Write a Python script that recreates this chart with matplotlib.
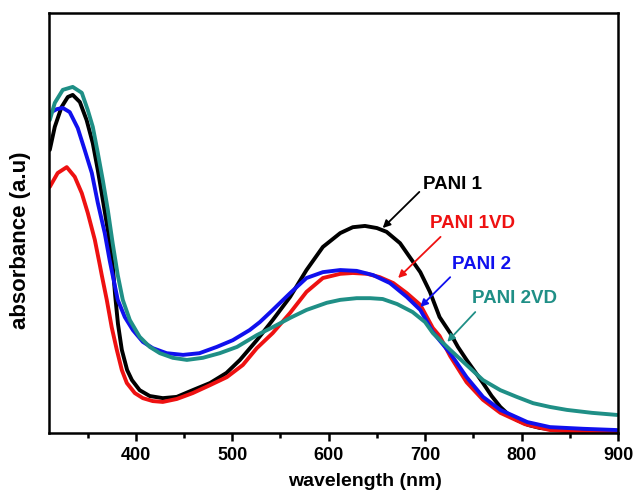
import numpy as np
import matplotlib.pyplot as plt
from matplotlib.ticker import MultipleLocator

plt.rcParams['font.family'] = ['Liberation Sans', 'DejaVu Sans']
plt.rcParams['font.weight'] = 'bold'

# --- Data (absorbance in arbitrary units) ---
pani1_nm = [310.8, 316, 323, 329.5, 334.6, 342, 349, 355.4, 360.6, 365.8, 371, 376, 378.5, 381.5,
            385.5, 391, 396, 404, 414.5, 428, 442.5, 459, 477, 494, 508, 525.5, 542, 560, 577,
            594, 612, 625, 637.6, 650, 660, 674, 684, 695, 705, 715, 726, 734, 743, 752, 760,
            769, 778, 786, 795, 807, 819, 847, 899]
pani1_abs = [0.674, 0.729, 0.776, 0.800, 0.805, 0.788, 0.745, 0.690, 0.626, 0.555, 0.483, 0.400,
             0.330, 0.260, 0.198, 0.150, 0.126, 0.102, 0.088, 0.083, 0.086, 0.102, 0.119, 0.143,
             0.174, 0.221, 0.269, 0.324, 0.388, 0.443, 0.476, 0.490, 0.493, 0.488, 0.479, 0.452,
             0.419, 0.383, 0.336, 0.276, 0.238, 0.205, 0.174, 0.145, 0.119, 0.088, 0.062, 0.045,
             0.031, 0.019, 0.012, 0.005, 0.002]

pani1vd_nm = [310.8, 319, 328.4, 336.7, 344, 350.2, 357.5, 362.7, 364.7, 369.9, 375, 380.3,
              385.5, 390.7, 399, 407.3, 417.6, 428, 442.5, 459, 477, 494.4, 511, 525.5, 542, 560,
              577, 594, 612, 625, 640, 653, 667, 681, 695, 708, 715, 726, 743, 760, 778, 803.5,
              829.5, 864, 899]
pani1vd_abs = [0.586, 0.619, 0.633, 0.610, 0.571, 0.524, 0.460, 0.400, 0.376, 0.317, 0.252,
               0.198, 0.150, 0.119, 0.095, 0.083, 0.076, 0.074, 0.081, 0.095, 0.114, 0.133,
               0.162, 0.202, 0.238, 0.286, 0.336, 0.369, 0.379, 0.381, 0.379, 0.371, 0.357,
               0.333, 0.305, 0.250, 0.231, 0.183, 0.121, 0.079, 0.048, 0.021, 0.007, 0.002, 0.0]

pani2_nm = [310.8, 318, 324.3, 331.5, 339.8, 347, 354.4, 360.6, 367.8, 373, 376, 381.3, 388.6,
            397, 407.3, 417.6, 432, 449, 466, 484, 500.6, 518, 528.6, 542, 560, 577, 594, 612,
            629, 646, 663.5, 681, 695, 708, 726, 743, 760, 778, 806, 829.5, 864, 899]
pani2_abs = [0.762, 0.771, 0.774, 0.764, 0.726, 0.674, 0.619, 0.548, 0.476, 0.410, 0.376,
             0.317, 0.276, 0.245, 0.217, 0.202, 0.190, 0.186, 0.190, 0.205, 0.221, 0.245, 0.264,
             0.293, 0.333, 0.369, 0.383, 0.388, 0.386, 0.376, 0.357, 0.324, 0.293, 0.240, 0.190,
             0.133, 0.086, 0.055, 0.026, 0.014, 0.010, 0.007]

pani2vd_nm = [310.8, 316, 324.3, 334.6, 344, 350.2, 355.4, 360.6, 365.8, 371, 376,
              381.3, 386.5, 393.8, 404, 414.5, 425, 438.4, 453, 469.5, 487, 505, 525.5, 542,
              560, 577, 598, 612, 629, 643, 656, 671, 687, 700, 708, 726, 743, 760, 778, 795,
              812, 829.5, 847, 873, 899]
pani2vd_abs = [0.745, 0.786, 0.817, 0.824, 0.810, 0.769, 0.729, 0.667, 0.602, 0.531, 0.452,
               0.376, 0.317, 0.269, 0.229, 0.205, 0.190, 0.179, 0.174, 0.179, 0.190,
               0.205, 0.233, 0.252, 0.274, 0.293, 0.310, 0.317, 0.321, 0.321, 0.319, 0.307,
               0.288, 0.264, 0.238, 0.198, 0.162, 0.126, 0.102, 0.086, 0.071, 0.062, 0.055,
               0.048, 0.043]

series = [
    ('PANI 1', pani1_nm, pani1_abs, 'black'),
    ('PANI 1VD', pani1vd_nm, pani1vd_abs, '#ee1111'),
    ('PANI 2', pani2_nm, pani2_abs, '#1010ee'),
    ('PANI 2VD', pani2vd_nm, pani2vd_abs, '#1f8f86'),
]

# label baseline-left position, arrow tail -> arrow head
label_pos = {
    'PANI 1': ((697.5, 0.581), (694, 0.574), (656, 0.488)),
    'PANI 1VD': ((705, 0.488), (716, 0.467), (672, 0.369)),
    'PANI 2': ((728, 0.390), (726, 0.371), (695, 0.300)),
    'PANI 2VD': ((748.5, 0.310), (752, 0.288), (723, 0.217)),
}

fig = plt.figure(figsize=(6.36, 4.92), dpi=100)
ax = fig.add_axes([49 / 636, 1 - 433 / 492, (618 - 49) / 636, (433 - 13) / 492])

for name, x, y, c in series:
    ax.plot(x, y, color=c, linewidth=2.8, solid_capstyle='round', solid_joinstyle='round')

for name, x, y, c in series:
    (tx, ty), tail, head = label_pos[name]
    ax.text(tx, ty, name, color=c, fontsize=13.5, fontweight='bold', ha='left', va='baseline')
    ax.annotate('', xy=head, xytext=tail,
                arrowprops=dict(arrowstyle='-|>', color=c, lw=1.3, mutation_scale=11,
                                shrinkA=0, shrinkB=0))

ax.set_xlim(310, 900)
ax.set_ylim(0, 1)
ax.xaxis.set_major_locator(MultipleLocator(100))
ax.xaxis.set_minor_locator(MultipleLocator(50))
ax.set_yticks([])
ax.tick_params(axis='x', which='major', direction='out', length=6, width=1.8, labelsize=13, pad=4)
ax.tick_params(axis='x', which='minor', direction='out', length=3.5, width=1.8)
for lbl in ax.get_xticklabels():
    lbl.set_fontweight('bold')
for s in ax.spines.values():
    s.set_linewidth(1.8)

fig.text(365.5 / 636, 1 - 486 / 492, 'wavelength (nm)', ha='center', va='baseline',
         fontsize=14, fontweight='bold')
fig.text(21 / 636, 1 - 240 / 492, 'absorbance (a.u)', ha='center', va='center', rotation=90,
         fontsize=16, fontweight='bold')

fig.savefig('out.png', dpi=100)
